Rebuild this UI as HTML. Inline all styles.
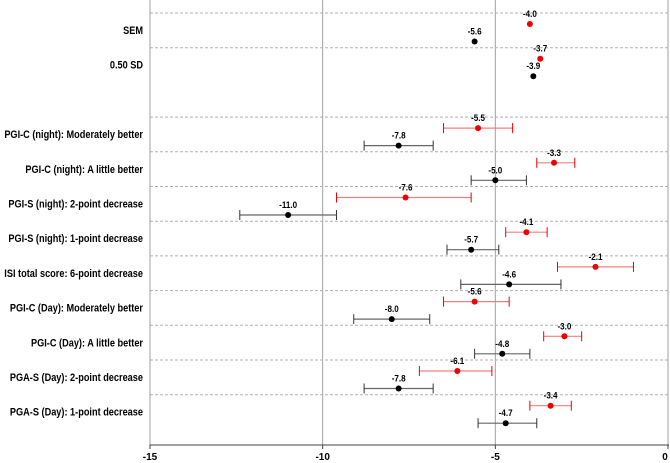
<!DOCTYPE html>
<html><head><meta charset="utf-8"><style>
body{margin:0;background:#fff}
svg{display:block;font-family:"Liberation Sans",sans-serif}
</style></head><body>
<svg id="chart" width="670" height="463" viewBox="0 0 670 463"></svg>
<script>
const categories=["SEM","0.50 SD","","PGI-C (night): Moderately better","PGI-C (night): A little better","PGI-S (night): 2-point decrease","PGI-S (night): 1-point decrease","ISI total score: 6-point decrease","PGI-C (Day): Moderately better","PGI-C (Day): A little better","PGA-S (Day): 2-point decrease","PGA-S (Day): 1-point decrease"];
const redValues=[-4.0,-3.7,null,-5.5,-3.3,-7.6,-4.1,-2.1,-5.6,-3.0,-6.1,-3.4];
const redLow=[null,null,null,-6.5,-3.8,-9.6,-4.7,-3.2,-6.5,-3.6,-7.2,-4.0];
const redHigh=[null,null,null,-4.5,-2.7,-5.7,-3.5,-1.0,-4.6,-2.5,-5.1,-2.8];
const blackValues=[-5.6,-3.9,null,-7.8,-5.0,-11.0,-5.7,-4.6,-8.0,-4.8,-7.8,-4.7];
const blackLow=[null,null,null,-8.8,-5.7,-12.4,-6.4,-6.0,-9.1,-5.6,-8.8,-5.5];
const blackHigh=[null,null,null,-6.8,-4.1,-9.6,-4.9,-3.1,-6.9,-4.0,-6.8,-3.8];
const xTicks=[-15,-10,-5,0];

const svg=document.getElementById('chart');
const NS='http://www.w3.org/2000/svg';
const x0=150,x1=668,yTop=13,slotH=34.7,axisY=445;
const xs=v=>x0+(v+15)/15*(x1-x0);
function mk(tag,attrs,name,parent){const e=document.createElementNS(NS,tag);for(const k in attrs)e.setAttribute(k,attrs[k]);


(parent||svg).appendChild(e);return e;}
xTicks.forEach(t=>{if(t>-15)mk('line',{x1:xs(t),x2:xs(t),y1:0,y2:axisY,stroke:'#a0a0a0','stroke-width':1},'x-gridline');});
categories.forEach((c,i)=>{if(c==='')return;const y=yTop+slotH*i;
mk('line',{x1:x0,x2:x1,y1:y,y2:y,stroke:'#b0b0b0','stroke-dasharray':'3,2','stroke-width':1},'row-separator');});
mk('line',{x1:x0,x2:x0,y1:0,y2:axisY,stroke:'#a0a0a0','stroke-width':1},'y-axis');
mk('line',{x1:x0,x2:x1+1,y1:axisY,y2:axisY,stroke:'#404040','stroke-width':1},'x-axis');
xTicks.forEach(t=>{mk('line',{x1:xs(t),x2:xs(t),y1:axisY,y2:axisY+4,stroke:'#404040'},'x-tick');
const tx=mk('text',{x:Math.min(xs(t),665),y:axisY+15,'text-anchor':'middle','font-size':10,'font-weight':'bold',fill:'#000'},'x-tick-label');tx.textContent=t;});
categories.forEach((c,i)=>{if(!c)return;const y=yTop+slotH*i+21;
const t=mk('text',{x:0,y:0,'text-anchor':'end','font-size':11.2,'font-weight':'bold',fill:'#000',transform:`translate(143,${y}) scale(0.82,1)`},'category-label');t.textContent=c;});
function series(vals,lo,hi,off,col,barCol,name){
vals.forEach((v,i)=>{if(v==null)return;const y=yTop+slotH*i+off;
if(lo[i]!=null){mk('line',{x1:xs(lo[i]),x2:xs(hi[i]),y1:y,y2:y,stroke:barCol,'stroke-width':1.2},name+'-error-bar');
[lo[i],hi[i]].forEach(e=>mk('line',{x1:xs(e),x2:xs(e),y1:y-5,y2:y+5,stroke:col==='#e00'?'#e00':'#333','stroke-width':1},name+'-error-cap'));}
mk('circle',{cx:xs(v),cy:y,r:3,fill:col},name+'-point');
const t=mk('text',{x:0,y:0,'text-anchor':'middle','font-size':9.5,'font-weight':'bold',fill:'#000',transform:`translate(${xs(v)},${y-7}) scale(0.85,1)`},name+'-value-label');t.textContent=v.toFixed(1);});}
series(redValues,redLow,redHigh,11,'#e00','#f08080','red-series');
series(blackValues,blackLow,blackHigh,28.5,'#000','#666','black-series');
</script>
</body></html>
